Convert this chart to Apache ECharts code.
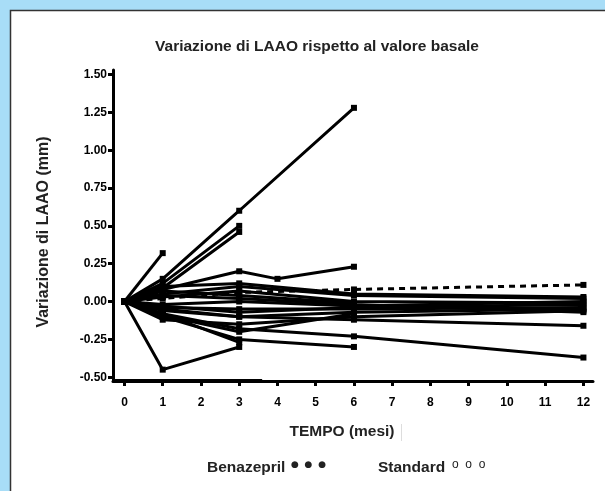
<!DOCTYPE html>
<html lang="it">
<head>
  <meta charset="UTF-8">
  <title>Variazione di LAAO</title>
  <style>
    html, body { margin: 0; padding: 0; background: #a8ddf7; }
  </style>
</head>
<body>
  <div id="main" style="width: 605px;height:491px;"></div>

  <script src="https://cdn.jsdelivr.net/npm/echarts@6/dist/echarts.min.js"></script>
  <script>
    const myChart = echarts.init(document.getElementById('main'));

    // mesi di controllo
    const mesi = [0, 1, 3, 6, 12];
    const mesiE = [0, 1, 3, 4, 6];
    const xTicks = [0, 1, 2, 3, 4, 5, 6, 7, 8, 9, 10, 11, 12];
    const yTicks = [-0.5, -0.25, 0, 0.25, 0.5, 0.75, 1.0, 1.25, 1.5];

    // singoli pazienti (valori ai mesi indicati, in mm)
    const p1 = [0, 0.32];
    const p2 = [0, -0.45, -0.30];
    const p3 = [0, 0.15, 0.60, 1.28];
    const p4 = [0, 0.12, 0.50];
    const p5 = [0, 0.09, 0.46];
    const p6 = [0, 0.08, 0.20, 0.15, 0.23];   // mesiE
    const p7 = [0, 0.02, 0.06, 0.08, 0.11];   // tratteggiato
    const p8 = [0, 0.05, 0.10, 0.04, 0.02];
    const p9 = [0, 0.03, 0.07, 0.00, -0.01];
    const p10 = [0, -0.02, 0.00, -0.03, 0.00];
    const p11 = [0, -0.04, -0.05, -0.05, -0.04];
    const p12 = [0, -0.06, -0.10, -0.07, -0.05];
    const p13 = [0, 0.10, 0.12, 0.05, 0.03];
    const p14 = [0, -0.12, -0.15, -0.10, -0.06];
    const p15 = [0, -0.05, -0.10, -0.12, -0.16];
    const p16 = [0, -0.08, -0.18, -0.23, -0.37];
    const p17 = [0, -0.10, -0.25, -0.30];
    const p18 = [0, -0.08, -0.27];
    const p19 = [0, 0.04, 0.02, -0.02, -0.07];
    const p20 = [0, -0.03, -0.07, -0.04, -0.02];
    const p21 = [0, 0.07, 0.04, -0.01];
    const p22 = [0, -0.09, -0.20, -0.08];
    const fondo = [[-0.3, -0.525], [3.6, -0.525]];

    const pazienti = [p1, p2, p3, p4, p5, p7, p8, p9, p10, p11, p12, p13, p14, p15, p16, p17, p18, p19, p20, p21, p22];

    function pairs(months, vals) {
      return vals.map((v, i) => [months[i], v]);
    }

    const series = pazienti.map((p) => ({
      type: 'line',
      data: pairs(mesi, p),
      symbol: 'rect',
      symbolSize: 6,
      showSymbol: true,
      lineStyle: { color: '#000', width: 3, type: p === p7 ? [6, 5] : 'solid' },
      itemStyle: { color: '#000' },
      silent: true
    }));
    series.push({
      type: 'line',
      data: pairs(mesiE, p6),
      symbol: 'rect',
      symbolSize: 6,
      lineStyle: { color: '#000', width: 3 },
      itemStyle: { color: '#000' },
      silent: true
    });
    series.push({
      type: 'line',
      data: fondo,
      symbol: 'none',
      lineStyle: { color: '#000', width: 4 },
      silent: true
    });

    const font = 'Liberation Sans, Arial, sans-serif';
    const bold = { fontFamily: font, fontWeight: 'bold', fill: '#222' };

    const options = {
      animation: false,
      backgroundColor: '#a8ddf7',
      graphic: [
        {
          type: 'rect', z: -10,
          shape: { x: 10.5, y: 10.5, width: 700, height: 600 },
          style: { fill: '#fff', stroke: '#333', lineWidth: 1.5 }
        },
        {
          type: 'text', x: 317, y: 47,
          style: Object.assign({ text: 'Variazione di LAAO rispetto al valore basale', fontSize: 15.5, align: 'center', verticalAlign: 'middle' }, bold)
        },
        {
          type: 'text', x: 44, y: 232, rotation: Math.PI / 2,
          style: Object.assign({ text: 'Variazione di LAAO (mm)', fontSize: 16, align: 'center', verticalAlign: 'middle' }, bold)
        },
        {
          type: 'text', x: 342, y: 432,
          style: Object.assign({ text: 'TEMPO (mesi)', fontSize: 15.5, align: 'center', verticalAlign: 'middle' }, bold)
        },
        {
          type: 'line', shape: { x1: 401.5, y1: 424, x2: 401.5, y2: 441 },
          style: { stroke: '#ddd', lineWidth: 1 }
        },
        {
          type: 'text', x: 207, y: 468,
          style: Object.assign({ text: 'Benazepril', fontSize: 15.5, align: 'left', verticalAlign: 'middle' }, bold)
        },
        {
          type: 'text', x: 291, y: 465,
          style: { text: '\u25CF  \u25CF  \u25CF', fontSize: 9, fontFamily: 'DejaVu Sans', fill: '#222', align: 'left', verticalAlign: 'middle' }
        },
        {
          type: 'text', x: 378, y: 468,
          style: Object.assign({ text: 'Standard', fontSize: 15.5, align: 'left', verticalAlign: 'middle' }, bold)
        },
        {
          type: 'text', x: 452, y: 465,
          style: { text: 'o  o  o', fontSize: 12, fontFamily: font, fill: '#222', align: 'left', verticalAlign: 'middle' }
        }
      ],
      grid: {
        left: 113,
        right: 12,
        top: 70,
        bottom: 110
      },
      xAxis: {
        type: 'value',
        min: -0.3,
        max: 12.25,
        splitLine: { show: false },
        axisLine: { onZero: false, lineStyle: { color: '#000', width: 3 } },
        axisTick: { customValues: xTicks, length: 5, lineStyle: { color: '#000', width: 3 } },
        axisLabel: {
          customValues: xTicks,
          color: '#000',
          fontWeight: 900,
          fontSize: 12,
          margin: 16,
          fontFamily: font
        }
      },
      yAxis: {
        type: 'value',
        min: -0.525,
        max: 1.53,
        splitLine: { show: false },
        axisLine: { show: true, onZero: false, lineStyle: { color: '#000', width: 3 } },
        axisTick: { show: true, customValues: yTicks, length: 5, lineStyle: { color: '#000', width: 3 } },
        axisLabel: {
          customValues: yTicks,
          color: '#000',
          fontWeight: 900,
          fontSize: 12,
          margin: 6,
          fontFamily: font,
          formatter: (v) => v.toFixed(2)
        }
      },
      series: series
    };

    myChart.setOption(options);
  </script>
</body>
</html>
